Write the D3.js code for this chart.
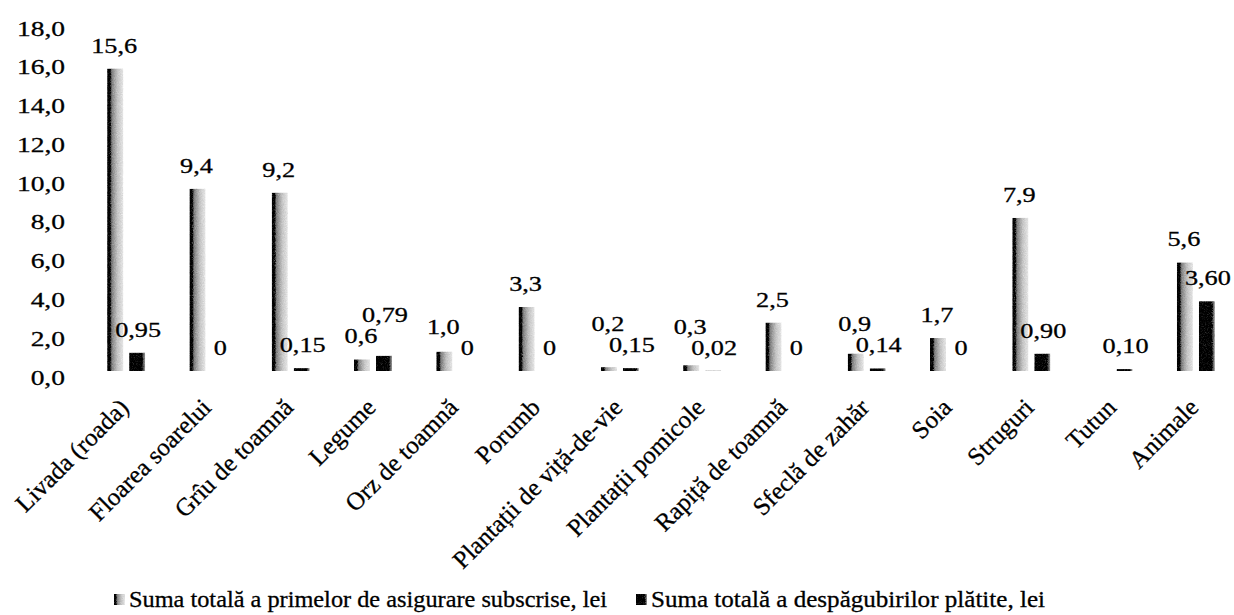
<!DOCTYPE html>
<html>
<head>
<meta charset="utf-8">
<script src="https://cdn.jsdelivr.net/npm/d3@7"></script>
<style>
  body { margin: 0; background: #fff; }
  text { font-family: "Liberation Serif", "Times New Roman", serif; fill: #000; stroke: #000; stroke-width: 0.3px; }
</style>
</head>
<body>
<div id="chart"></div>
<script>
// values
const categories = ["Livada (roada)", "Floarea soarelui", "Grîu de toamnă", "Legume", "Orz de toamnă",
    "Porumb", "Plantații de viță-de-vie", "Plantații pomicole", "Rapiță de toamnă", "Sfeclă de zahăr",
    "Soia", "Struguri", "Tutun", "Animale"];
const premii = [15.6, 9.4, 9.2, 0.6, 1.0, 3.3, 0.2, 0.3, 2.5, 0.9, 1.7, 7.9, null, 5.6];
const despagubiri = [0.95, 0, 0.15, 0.79, 0, 0, 0.15, 0.02, 0, 0.14, 0, 0.90, 0.10, 3.60];
const yTicks = [0, 2, 4, 6, 8, 10, 12, 14, 16, 18];
const seriesNames = ["Suma totală a primelor de asigurare subscrise, lei", "Suma totală a despăgubirilor plătite, lei"];

const width = 1234;
const height = 615;
const stretch = 1.25; // scanned text looks wide

const comma = s => s.replace(".", ",");
const fmtPrem = v => comma(d3.format(".1f")(v));
const fmtDesp = v => v === 0 ? "0" : comma(d3.format(".2f")(v));

const svg = d3.select("#chart").append("svg")
    .attr("width", width)
    .attr("height", height);

const defs = svg.append("defs");
const g1 = defs.append("linearGradient").attr("id", "gradPrem").attr("x1", 0).attr("x2", 1).attr("y1", 0).attr("y2", 0);
[[0, "#111"], [0.12, "#333"], [0.3, "#9a9a9a"], [0.65, "#d4d4d4"], [1, "#f2f2f2"]]
    .forEach(s => g1.append("stop").attr("offset", s[0]).attr("stop-color", s[1]));
const g2 = defs.append("linearGradient").attr("id", "gradDesp").attr("x1", 0).attr("x2", 1).attr("y1", 0).attr("y2", 0);
[[0, "#000"], [0.5, "#111"], [0.8, "#555"], [1, "#b0b0b0"]]
    .forEach(s => g2.append("stop").attr("offset", s[0]).attr("stop-color", s[1]));

const grain = defs.append("filter").attr("id", "grain").attr("x", 0).attr("y", 0).attr("width", 1).attr("height", 1);
grain.append("feTurbulence").attr("type", "fractalNoise").attr("baseFrequency", 0.9).attr("numOctaves", 2).attr("seed", 4).attr("result", "n");
grain.append("feColorMatrix").attr("in", "n").attr("type", "saturate").attr("values", 0).attr("result", "gr");
grain.append("feComposite").attr("in", "SourceGraphic").attr("in2", "gr").attr("operator", "arithmetic")
    .attr("k1", 0).attr("k2", 1).attr("k3", 0.5).attr("k4", -0.25).attr("result", "c");
grain.append("feComposite").attr("in", "c").attr("in2", "SourceGraphic").attr("operator", "in");

const x = d3.scaleBand().domain(categories).range([85, 1237]).paddingInner(0);
const y = d3.scaleLinear().domain([0, 18]).range([371, 22]);
const barW = 16;

// y axis: labels only
const yAxis = svg.append("g")
    .attr("transform", "translate(65,0)")
    .call(d3.axisLeft(y).tickValues(yTicks).tickSize(0).tickFormat(d => comma(d3.format(".1f")(d))));
yAxis.select(".domain").remove();
yAxis.selectAll("text")
    .attr("x", 0).attr("dy", null)
    .attr("text-anchor", "end")
    .attr("dominant-baseline", "middle")
    .attr("transform", `translate(0,8) scale(${stretch},1)`)
    .style("font-size", "22px")
    .style("font-family", "Liberation Serif");

// x axis: rotated category labels
const xAxis = svg.append("g")
    .attr("transform", `translate(0,${y(0)})`)
    .call(d3.axisBottom(x).tickSize(0));
xAxis.select(".domain").remove();
xAxis.selectAll("text")
    .attr("y", 0).attr("dy", null)
    .attr("text-anchor", "end")
    .attr("transform", "translate(4,38) rotate(-45)")
    .style("font-size", "25px")
    .style("font-family", "Liberation Serif");

const rows = categories.map((c, i) => ({cat: c, p: premii[i], d: despagubiri[i]}));
const cx = d => x(d.cat) + x.bandwidth() / 2;

const bars = svg.append("g").attr("filter", "url(#grain)");
bars.selectAll(".prem")
    .data(rows.filter(d => d.p !== null))
    .enter().append("rect")
    .attr("class", "prem")
    .attr("x", d => cx(d) - barW - 3)
    .attr("y", d => y(d.p))
    .attr("width", barW)
    .attr("height", d => y(0) - y(d.p))
    .attr("fill", "url(#gradPrem)");
bars.selectAll(".desp")
    .data(rows)
    .enter().append("rect")
    .attr("class", "desp")
    .attr("x", d => cx(d) + 3)
    .attr("y", d => y(d.d))
    .attr("width", barW)
    .attr("height", d => y(0) - y(d.d))
    .attr("fill", "url(#gradDesp)");

// value labels, lifting the taller one when the pair collides
const gapY = 21;
rows.forEach(d => {
    d.ly2 = y(d.d) - 16;
    if (d.p !== null) {
        d.ly1 = y(d.p) - 16;
        if (d.p >= d.d && d.ly1 > d.ly2 - gapY) d.ly1 = d.ly2 - gapY;
        if (d.d > d.p && d.ly2 > d.ly1 - gapY) d.ly2 = d.ly1 - gapY;
    }
});

const labels = svg.append("g").style("font-size", "21px");
labels.selectAll(".lp")
    .data(rows.filter(d => d.p !== null))
    .enter().append("text")
    .attr("text-anchor", "middle")
    .attr("transform", d => `translate(${cx(d) - barW / 2 - 4},${d.ly1}) scale(${stretch},1)`)
    .text(d => fmtPrem(d.p));
labels.selectAll(".ld")
    .data(rows)
    .enter().append("text")
    .attr("text-anchor", "middle")
    .attr("transform", d => `translate(${cx(d) + barW / 2 + 4},${d.ly2}) scale(${stretch},1)`)
    .text(d => fmtDesp(d.d));

// legend
const legend = svg.append("g").attr("transform", "translate(0,607)");
const legX = [114, 636];
const legLen = [478, 394];
seriesNames.forEach((name, i) => {
    legend.append("rect")
        .attr("x", legX[i]).attr("y", -13)
        .attr("width", 11).attr("height", 11)
        .attr("fill", i === 0 ? "url(#gradPrem)" : "url(#gradDesp)")
        .attr("filter", "url(#grain)");
    legend.append("text")
        .attr("x", legX[i] + 15)
        .attr("textLength", legLen[i])
        .attr("lengthAdjust", "spacingAndGlyphs")
        .style("font-size", "23px")
        .text(name);
});
</script>
</body>
</html>
